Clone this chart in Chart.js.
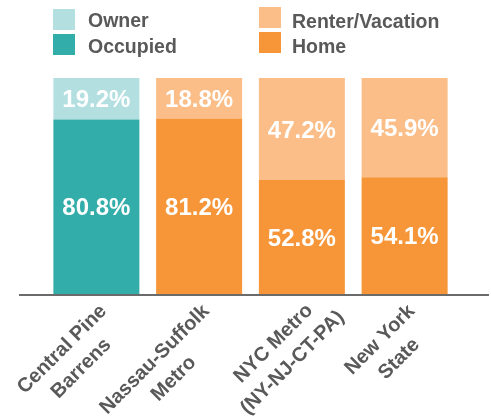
<!DOCTYPE html>
<html>
<head>
<meta charset="utf-8">
<title>Housing tenure</title>
<script src="https://cdn.jsdelivr.net/npm/chart.js@4/dist/chart.umd.min.js"></script>
<style>
  html, body { margin: 0; padding: 0; background: #fff; }
  #wrap { position: relative; width: 491px; height: 416px; }
  #wrap canvas { position: absolute; left: 0; top: 0; }
  .key-text {
    position: absolute;
    font: bold 19.5px "Liberation Sans", Arial, sans-serif;
    line-height: 20px;
    color: #595959;
    white-space: nowrap;
  }
  .key-box { position: absolute; width: 22px; height: 21px; }
</style>
</head>
<body>
<div id="wrap">
  <canvas id="tenure" width="491" height="416"></canvas>
  <div id="key"></div>
</div>
<script>
// categories (two lines each), values in percent
const categories = [
  ['Central Pine', 'Barrens'],
  ['Nassau-Suffolk', 'Metro'],
  ['NYC Metro', '(NY-NJ-CT-PA)'],
  ['New York', 'State']
];
const ownerOccupied = [80.8, 81.2, 52.8, 54.1];
const renterVacationHome = [19.2, 18.8, 47.2, 45.9];

// first bar is teal, the rest orange
const ownerColors = ['#33ada9', '#f69639', '#f69639', '#f69639'];
const renterColors = ['#b3dfe1', '#fbbe88', '#fbbe88', '#fbbe88'];

const FONT = '"Liberation Sans", Arial, sans-serif';
const GREY = '#595959';

// legend: two columns, each split over two rows
const keyItems = [
  { text: 'Owner', color: '#b3dfe1', box: [53, 9], label: [88, 10] },
  { text: 'Occupied', color: '#33ada9', box: [53, 34], label: [88, 35.5] },
  { text: 'Renter/Vacation', color: '#fbbe88', box: [259, 7], label: [292, 10.5] },
  { text: 'Home', color: '#f69639', box: [259, 32], label: [292, 35.5] }
];
const key = document.getElementById('key');
keyItems.forEach(item => {
  const box = document.createElement('div');
  box.className = 'key-box';
  box.style.left = item.box[0] + 'px';
  box.style.top = item.box[1] + 'px';
  box.style.background = item.color;
  key.appendChild(box);
  const t = document.createElement('div');
  t.className = 'key-text';
  t.style.left = item.label[0] + 'px';
  t.style.top = item.label[1] + 'px';
  t.textContent = item.text;
  key.appendChild(t);
});

// white percent labels centred in each segment
const valueLabels = {
  id: 'valueLabels',
  afterDatasetsDraw(chart) {
    const ctx = chart.ctx;
    const size = 24;
    ctx.save();
    ctx.font = 'bold ' + size + 'px ' + FONT;
    ctx.fillStyle = '#ffffff';
    ctx.textAlign = 'center';
    ctx.textBaseline = 'alphabetic';
    chart.data.datasets.forEach((ds, i) => {
      chart.getDatasetMeta(i).data.forEach((bar, j) => {
        const mid = (bar.y + bar.base) / 2;
        ctx.fillText(ds.data[j].toFixed(1) + '%', bar.x, mid + size * 0.36);
      });
    });
    ctx.restore();
  }
};

// base line runs a little past the plot on both sides
const baseLine = {
  id: 'baseLine',
  afterDatasetsDraw(chart) {
    const { ctx, chartArea } = chart;
    ctx.save();
    ctx.strokeStyle = '#6b6b6b';
    ctx.lineWidth = 2;
    ctx.beginPath();
    ctx.moveTo(chartArea.left - 26, chartArea.bottom + 1);
    ctx.lineTo(chartArea.right + 33, chartArea.bottom + 1);
    ctx.stroke();
    ctx.restore();
  }
};

// rotated, centre-aligned two-line category labels hung below each bar
const categoryLabels = {
  id: 'categoryLabels',
  afterDraw(chart) {
    const ctx = chart.ctx;
    const xs = chart.scales.x;
    const y0 = chart.chartArea.bottom;
    const size = 20;
    const lineGap = 27;
    const s = Math.SQRT1_2;
    ctx.save();
    ctx.font = 'bold ' + size + 'px ' + FONT;
    ctx.fillStyle = GREY;
    ctx.textAlign = 'center';
    ctx.textBaseline = 'alphabetic';
    categories.forEach((lines, i) => {
      const widths = lines.map(l => ctx.measureText(l).width);
      const w = Math.max(...widths);
      const offs = lines.map((l, k) => (k - (lines.length - 1) / 2) * lineGap);
      const ax = xs.getPixelForValue(i) + 19;
      const ay = y0 + 19;
      // longest line ends just short of the anchor
      let u = -5 - w / 2;
      // keep the lowest corner (start of a line) inside the canvas
      const lowest = Math.max(...widths.map((lw, k) =>
        ay + s * (offs[k] + size * 0.2 - u + lw / 2)));
      const limit = chart.height - 3;
      if (lowest > limit) u += (lowest - limit) / s;
      ctx.save();
      ctx.translate(ax, ay);
      ctx.rotate(-Math.PI / 4);
      lines.forEach((l, k) => ctx.fillText(l, u, offs[k] + size * 0.36));
      ctx.restore();
    });
    ctx.restore();
  }
};

new Chart(document.getElementById('tenure'), {
  type: 'bar',
  data: {
    labels: categories,
    datasets: [
      {
        label: 'Owner Occupied',
        data: ownerOccupied,
        backgroundColor: ownerColors,
        barPercentage: 0.837,
        categoryPercentage: 1
      },
      {
        label: 'Renter/Vacation Home',
        data: renterVacationHome,
        backgroundColor: renterColors,
        barPercentage: 0.837,
        categoryPercentage: 1
      }
    ]
  },
  options: {
    responsive: false,
    devicePixelRatio: 1,
    animation: false,
    layout: { padding: { left: 45, right: 35, top: 78, bottom: 122 } },
    plugins: {
      legend: { display: false },
      tooltip: { enabled: false }
    },
    scales: {
      x: { stacked: true, display: false },
      y: { stacked: true, display: false, min: 0, max: 100 }
    }
  },
  plugins: [valueLabels, baseLine, categoryLabels]
});
</script>
</body>
</html>
